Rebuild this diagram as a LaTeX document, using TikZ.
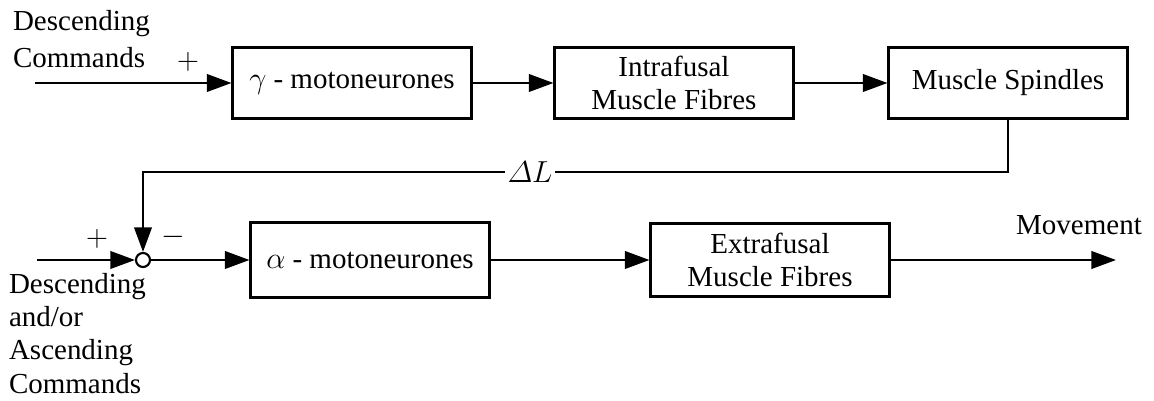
\documentclass[tikz,border=0pt]{standalone}
\usepackage{amsmath}
\usepackage{fontspec}
\setmainfont{Liberation Serif}
\usepackage{tikz}
\usetikzlibrary{arrows.meta}

\begin{document}
\begin{tikzpicture}[x=0.02cm, y=-0.02cm, line width=1.2pt,
		font=\fontsize{16.5}{19}\selectfont,
		blk/.style={draw, minimum width=4.78cm, minimum height=1.42cm, align=center, inner sep=2pt},
		txt/.style={anchor=north west, align=left, inner sep=0pt},
		arr/.style={-{Triangle[length=14pt, width=10pt]}}]
				\useasboundingbox (0, 0) rectangle (1154, 401);
				% upper row
				\node[txt] (dc) at (12, 9) {Descending\\[2pt]Commands};
				\node[blk] (gmn) at (352, 83) {$\gamma$ - motoneurones};
				\node[blk] (ifib) at (674, 83) {Intrafusal\\Muscle Fibres};
				\node[blk] (spin) at (1008, 83) {Muscle Spindles};
				\coordinate (in1) at (35, 83);
				\draw[arr] (in1) -- (gmn);
				\draw[arr] (gmn) -- (ifib);
				\draw[arr] (ifib) -- (spin);
				\node (p1) at (188, 62) {$+$};
				% feedback
				\node[inner sep=1pt] (dl) at (530, 172) {$\varDelta L$};
				\draw (spin.south) |- (dl.east);
				% lower row
				\node[draw, circle, fill=white, inner sep=0pt, minimum size=0.28cm] (sum) at (143, 260) {};
				\node[blk, minimum height=1.5cm] (amn) at (370, 260) {$\alpha$ - motoneurones};
				\node[blk, minimum height=1.46cm] (efib) at (770, 260) {Extrafusal\\Muscle Fibres};
				\node[txt] (dac) at (8, 272) {Descending\\and/or\\Ascending\\Commands};
				\coordinate (in2) at (37, 260);
				\coordinate (out) at (1116, 260);
				\draw[arr] (dl.west) -| (sum.north);
				\draw[arr] (in2) -- (sum.west);
				\draw[arr] (sum) -- (amn);
				\draw[arr] (amn) -- (efib);
				\draw[arr] (efib) -- (out);
				\node (p2) at (97, 239) {$+$};
				\node (m2) at (173, 237) {$-$};
				\node (mv) at (1079, 225) {Movement};
			\end{tikzpicture}
\end{document}
